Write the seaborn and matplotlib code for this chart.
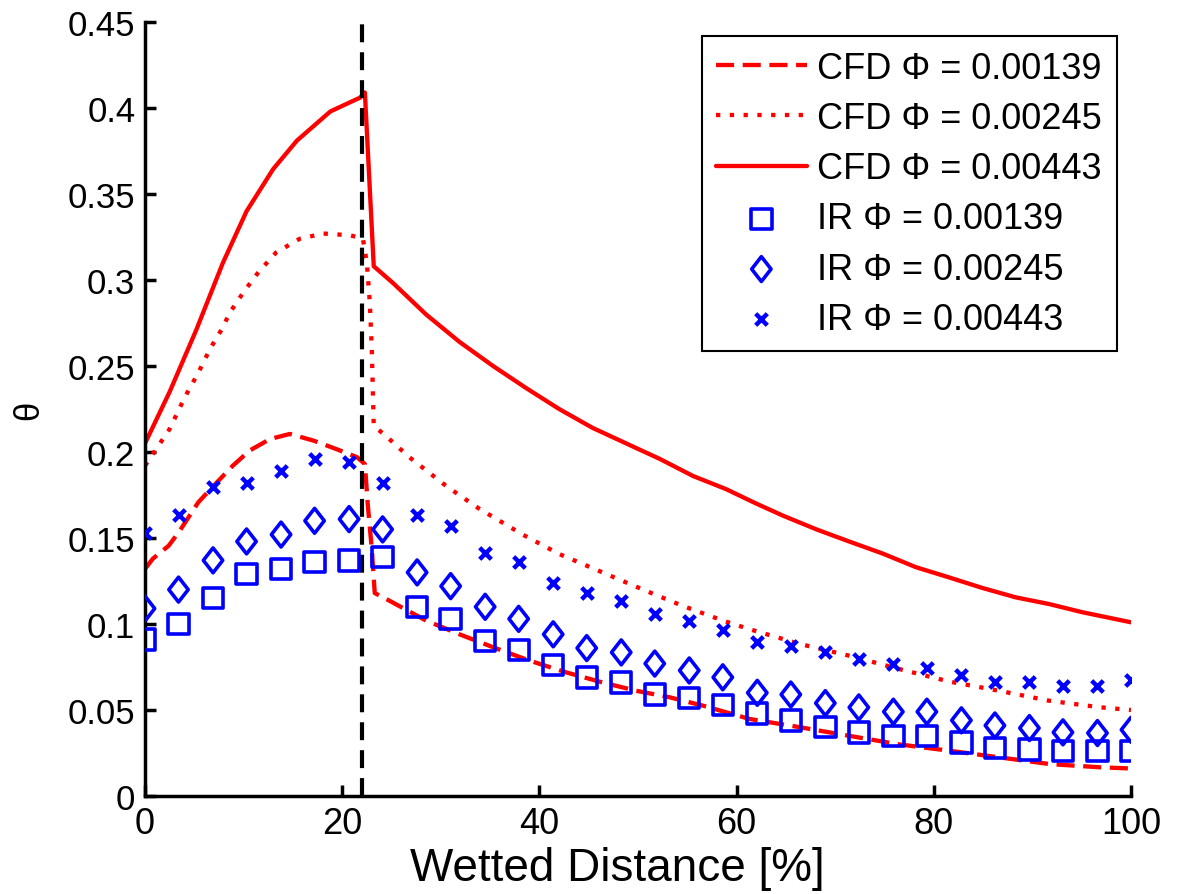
import matplotlib
matplotlib.use('Agg')
import matplotlib.pyplot as plt
from matplotlib.path import Path
import seaborn as sns

# IR measurement positions [% wetted distance]
ir_x = [0, 3.4, 6.9, 10.3, 13.8, 17.2, 20.7, 24.1, 27.6, 31.0, 34.5, 37.9, 41.4, 44.8, 48.3,
        51.7, 55.2, 58.6, 62.1, 65.5, 69.0, 72.4, 75.9, 79.3, 82.8, 86.2, 89.7, 93.1, 96.6, 100]
ir_139 = [0.091, 0.100, 0.115, 0.129, 0.132, 0.136, 0.137, 0.139, 0.110, 0.103, 0.090, 0.085,
          0.076, 0.069, 0.066, 0.059, 0.057, 0.053, 0.048, 0.044, 0.040, 0.037, 0.035, 0.035,
          0.031, 0.028, 0.027, 0.026, 0.026, 0.026]
ir_245 = [0.109, 0.120, 0.137, 0.148, 0.152, 0.160, 0.161, 0.155, 0.130, 0.122, 0.110, 0.103,
          0.094, 0.086, 0.0835, 0.077, 0.073, 0.069, 0.060, 0.059, 0.054, 0.0515, 0.049, 0.049,
          0.044, 0.041, 0.0395, 0.037, 0.0366, 0.0385]
ir_443 = [0.153, 0.1635, 0.1795, 0.182, 0.189, 0.196, 0.194, 0.182, 0.1635, 0.157, 0.141, 0.136,
          0.124, 0.118, 0.1135, 0.106, 0.102, 0.0965, 0.0897, 0.087, 0.0835, 0.0797, 0.0767,
          0.0744, 0.0703, 0.0665, 0.0665, 0.0637, 0.0637, 0.0674]

# CFD curves
cfd_139_x = [0, 0.8, 2.4, 3.5, 5.4, 6.9, 8.9, 10.6, 12.7, 14.7, 17.1, 19.4, 21.5, 22.3, 22.6,
             23.0, 23.3, 24.8, 28.5, 31.9, 35.3, 39.0, 42.7, 46.4, 49.8, 53.2, 56.6, 61.3,
             66.4, 71.4, 76.5, 81.6, 86.6, 91.7, 96.8, 100]
cfd_139_y = [0.132, 0.138, 0.1455, 0.154, 0.1707, 0.180, 0.192, 0.2008, 0.2076, 0.2105, 0.2066,
             0.2017, 0.197, 0.193, 0.169, 0.1436, 0.118, 0.1135, 0.102, 0.094, 0.0865, 0.0787,
             0.0719, 0.066, 0.0612, 0.0574, 0.0525, 0.0448, 0.040, 0.035, 0.030, 0.0263,
             0.0225, 0.0186, 0.0167, 0.016]

cfd_245_x = [0, 2.5, 4.05, 5.4, 6.6, 7.8, 8.6, 10.0, 11.5, 13.3, 15.7, 18.1, 20.8, 22.1, 22.5,
             22.8, 23.0, 23.2, 24.2, 26.8, 30.6, 33.9, 38.3, 42.0, 46.4, 50.5, 54.5, 58.6,
             61.3, 66.4, 71.4, 76.5, 81.6, 86.6, 91.7, 96.8, 100]
cfd_245_y = [0.192, 0.2134, 0.232, 0.246, 0.260, 0.2715, 0.281, 0.293, 0.3045, 0.316, 0.324,
             0.327, 0.326, 0.324, 0.310, 0.287, 0.260, 0.215, 0.2105, 0.197, 0.180, 0.167,
             0.152, 0.1407, 0.130, 0.120, 0.1106, 0.102, 0.097, 0.0884, 0.0816, 0.0738,
             0.0665, 0.0612, 0.0554, 0.0516, 0.050]

cfd_443_x = [0, 2.5, 5.2, 7.9, 10.3, 13.0, 15.4, 18.8, 21.8, 22.3, 23.2, 25.2, 28.5, 31.9,
             35.3, 38.7, 42.0, 45.4, 48.8, 52.2, 55.6, 58.9, 62.0, 64.7, 68.1, 71.4, 74.8,
             78.2, 81.6, 84.9, 88.3, 91.7, 95.1, 100]
cfd_443_y = [0.205, 0.235, 0.271, 0.310, 0.340, 0.3645, 0.381, 0.398, 0.406, 0.409, 0.308,
             0.298, 0.280, 0.264, 0.250, 0.237, 0.225, 0.214, 0.205, 0.196, 0.186, 0.1785,
             0.170, 0.163, 0.155, 0.148, 0.141, 0.133, 0.127, 0.121, 0.1155, 0.1116, 0.1068,
             0.101]

split_x = 22.0
x_ticks = [0, 20, 40, 60, 80, 100]
y_ticks = [0, 0.05, 0.1, 0.15, 0.2, 0.25, 0.3, 0.35, 0.4, 0.45]
y_tick_labels = ['0', '0.05', '0.1', '0.15', '0.2', '0.25', '0.3', '0.35', '0.4', '0.45']

sns.set_style('ticks')
plt.rcParams['font.family'] = ['Liberation Sans', 'DejaVu Sans']
plt.rcParams.update({'text.color': 'black', 'axes.labelcolor': 'black',
                     'xtick.color': 'black', 'ytick.color': 'black',
                     'axes.edgecolor': 'black'})

fig = plt.figure(figsize=(11.77, 8.95), dpi=100)
ax = fig.add_axes([0.1232, 0.1095, 0.8377, 0.8648])

dash = (0, (4.2, 2.0))
dot = (0, (1, 2.2))

sns.lineplot(x=cfd_139_x, y=cfd_139_y, ax=ax, color='red', lw=3.1, ls=dash,
             label='CFD Φ = 0.00139')
sns.lineplot(x=cfd_245_x, y=cfd_245_y, ax=ax, color='red', lw=3.1, ls=dot,
             label='CFD Φ = 0.00245')
sns.lineplot(x=cfd_443_x, y=cfd_443_y, ax=ax, color='red', lw=3.1, ls='-',
             label='CFD Φ = 0.00443')

diamond = Path([(0, 1), (0.78, 0), (0, -1), (-0.78, 0), (0, 1)],
               [Path.MOVETO, Path.LINETO, Path.LINETO, Path.LINETO, Path.CLOSEPOLY])
sns.scatterplot(x=ir_x, y=ir_139, ax=ax, marker='s', s=215, facecolors='none',
                edgecolor='blue', linewidth=2.6, label='IR Φ = 0.00139', zorder=3)
sns.scatterplot(x=ir_x, y=ir_245, ax=ax, marker=diamond, s=320, facecolors='none',
                edgecolor='blue', linewidth=2.6, label='IR Φ = 0.00245', zorder=3)
sns.scatterplot(x=ir_x, y=ir_443, ax=ax, marker='x', s=70, color='blue',
                linewidth=3.2, label='IR Φ = 0.00443', zorder=3)

ax.axvline(split_x, color='black', lw=3, ls=(0, (4.3, 2.4)), zorder=2)

ax.set_xlim(0, 100)
ax.set_ylim(0, 0.45)
ax.set_xticks(x_ticks)
ax.set_yticks(y_ticks)
ax.set_yticklabels(y_tick_labels)
ax.tick_params(direction='in', length=8, width=2.5, pad=7, top=False, right=False)
ax.tick_params(axis='x', labelsize=26)
ax.tick_params(axis='y', labelsize=25)
sns.despine(ax=ax)
for side in ['left', 'bottom']:
    ax.spines[side].set_linewidth(2.5)
ax.grid(False)

ax.set_xlabel('Wetted Distance [%]', fontsize=33)
ax.xaxis.set_label_coords(0.479, -0.064, transform=ax.transAxes)
ax.xaxis.label.set_va('top')
ax.set_ylabel('θ', fontsize=25, labelpad=16)

leg = ax.legend(loc='upper right', fontsize=26, frameon=True, fancybox=False,
                edgecolor='black', framealpha=1, labelspacing=0.42, handlelength=2.5,
                handletextpad=0.3, borderaxespad=0.4, borderpad=0.4)
leg.get_frame().set_linewidth(1.5)

fig.savefig('out.png', dpi=100)
